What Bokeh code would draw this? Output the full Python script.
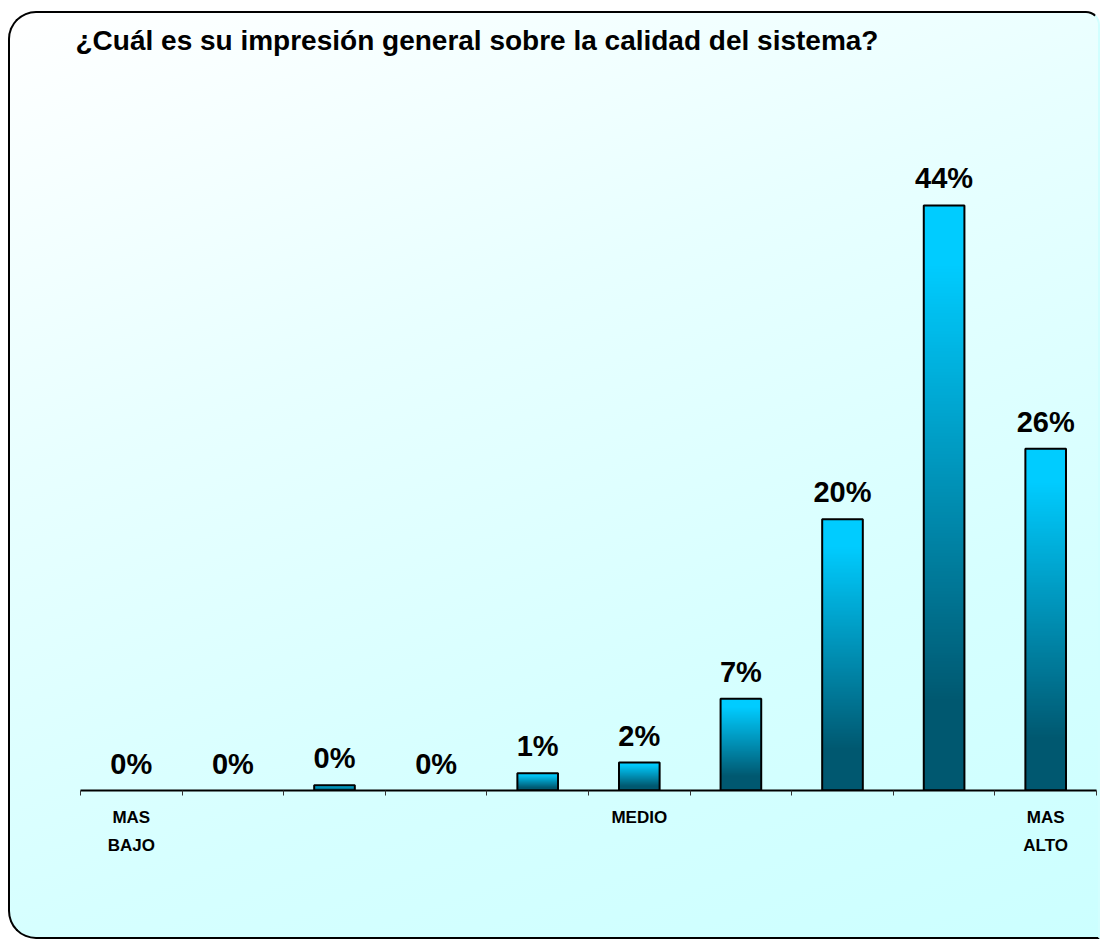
import numpy as np
from bokeh.plotting import figure
from bokeh.models import Range1d, FixedTicker, LinearAxis, ColumnDataSource, LabelSet
from bokeh.core.properties import value
from bokeh.embed import file_html
from bokeh.resources import INLINE

# ---------------- data ----------------
title_text = "¿Cuál es su impresión general sobre la calidad del sistema?"
values = [0.0, 0.0, 0.4, 0.0, 1.3, 2.1, 6.9, 20.4, 44.0, 25.7]
value_labels = ["0%", "0%", "0%", "0%", "1%", "2%", "7%", "20%", "44%", "26%"]
label_line1 = ["MAS", "", "", "", "", "MEDIO", "", "", "", "MAS"]
label_line2 = ["BAJO", "", "", "", "", "", "", "", "", "ALTO"]

# ---------------- geometry ----------------
n = len(values)
centers = [2 * i + 1 for i in range(n)]
boundaries = list(range(0, 2 * n + 1, 2))
bar_w = 0.8
FONT = "Liberation Sans"

W, H = 1092, 928
p = figure(width=W, height=H, output_backend="svg", toolbar_location=None,
           x_range=Range1d(0, 2 * n), y_range=Range1d(0, 55.13),
           min_border_left=70, min_border_right=6, min_border_top=44,
           min_border_bottom=151)
p.background_fill_alpha = 0
p.border_fill_alpha = 0
p.outline_line_color = None
p.xgrid.visible = False
p.ygrid.visible = False
p.yaxis.visible = False

p.styles = {
    "background": "linear-gradient(160deg, #FFFFFF 0%, #E8FFFF 35%, #D6FFFF 70%, #CCFFFF 100%)",
    "border-top": "2px solid #000000",
    "border-left": "2px solid #000000",
    "border-bottom": "2px solid #000000",
    "border-right": "2px solid #D2FFFF",
    "border-radius": "28px 14px 0px 28px",
    "margin-top": "11px",
    "margin-left": "8px",
    "overflow": "hidden",
}

p.title.text = title_text
p.title.text_font = FONT
p.title.text_font_size = "28px"
p.title.text_font_style = "bold"
p.title.text_color = "#000000"
p.title.align = "left"
p.title.offset = -5
p.title.standoff = 4

# ---------------- gradient bars ----------------
N = 200
top_c = np.array([0, 204, 255])
bot_c = np.array([0, 88, 112])
rows = np.arange(N)
t = 1 - (rows + 0.5) / N
s = np.clip((t - 0.1) / 0.75, 0, 1)
grad = np.empty((N, 1), dtype=np.uint32)
view = grad.view(dtype=np.uint8).reshape((N, 1, 4))
for k in range(3):
    view[:, 0, k] = np.round(top_c[k] + s * (bot_c[k] - top_c[k])).astype(np.uint8)
view[:, 0, 3] = 255

bx = [c for c, v in zip(centers, values) if v > 0]
bv = [v for v in values if v > 0]
img_src = ColumnDataSource(dict(image=[grad] * len(bv),
                                x=[c - bar_w / 2 for c in bx], y=[0] * len(bv),
                                dw=[bar_w] * len(bv), dh=bv))
p.image_rgba(image="image", x="x", y="y", dw="dw", dh="dh", source=img_src)

bar_src = ColumnDataSource(dict(x=bx, top=bv))
p.vbar(x="x", top="top", width=bar_w, source=bar_src, fill_alpha=0,
       line_color="#000000", line_width=2)

lab_src = ColumnDataSource(dict(x=centers, top=values, lab=value_labels))
labels = LabelSet(x="x", y="top", text="lab", source=lab_src, y_offset=17,
                  text_align="center", text_baseline="alphabetic",
                  text_font=value(FONT), text_font_size=value("29px"),
                  text_font_style="bold", text_color="#000000")
p.add_layout(labels)

# ---------------- axes ----------------
ticks1 = [c for c, l in zip(centers, label_line1) if l]
ax = p.xaxis[0]
ax.ticker = FixedTicker(ticks=ticks1, minor_ticks=boundaries)
ax.major_label_overrides = {c: l for c, l in zip(centers, label_line1) if l}
ax.major_tick_out = 0
ax.major_tick_in = 0
ax.major_tick_line_color = None
ax.minor_tick_out = 5
ax.minor_tick_in = 0
ax.minor_tick_line_color = "#333333"
ax.minor_tick_line_width = 1
ax.axis_line_width = 2
ax.axis_line_color = "#000000"
ax.major_label_standoff = 12
ax.major_label_text_font = FONT
ax.major_label_text_font_size = "17px"
ax.major_label_text_font_style = "bold"
ax.major_label_text_color = "#000000"

ticks2 = [c for c, l in zip(centers, label_line2) if l]
ax2 = LinearAxis(ticker=FixedTicker(ticks=ticks2),
                 major_label_overrides={c: l for c, l in zip(centers, label_line2) if l},
                 axis_line_color=None, major_tick_line_color=None,
                 minor_tick_line_color=None,
                 major_tick_out=0, major_tick_in=0,
                 major_label_standoff=6,
                 major_label_text_font=FONT, major_label_text_font_size="17px",
                 major_label_text_font_style="bold", major_label_text_color="#000000")
p.add_layout(ax2, "below")

open("out.html", "w").write(file_html(p, INLINE))
